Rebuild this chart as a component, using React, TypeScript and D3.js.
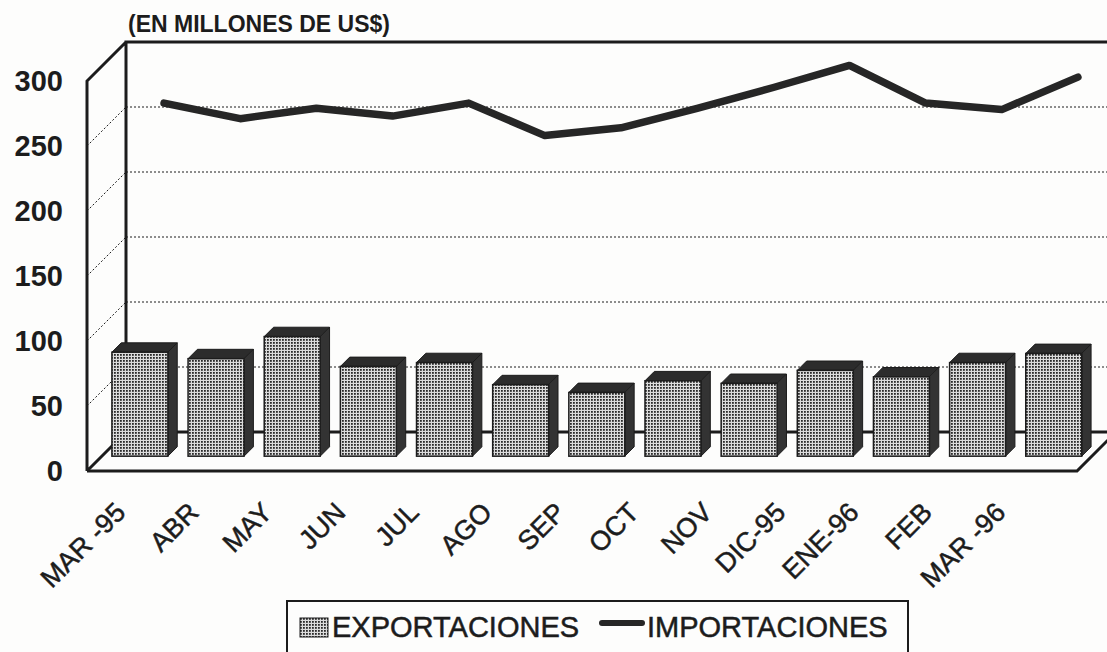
import React, { useEffect, useRef } from 'react'
import * as d3 from 'd3'

const months = ['MAR -95', 'ABR', 'MAY', 'JUN', 'JUL', 'AGO', 'SEP', 'OCT', 'NOV', 'DIC-95', 'ENE-96', 'FEB', 'MAR -96']
const exportaciones = [80, 75, 92, 69, 72, 55, 49, 58, 56, 66, 61, 72, 79]
const importaciones = [253, 241, 249, 243, 253, 228, 234, 249, 265, 282, 253, 248, 273]
const yTicks = [0, 50, 100, 150, 200, 250, 300]

const W = 1107
const H = 652
const font = '"Liberation Sans", Arial, Helvetica, sans-serif'
const ink = '#1c1c1c'

const App = () => {
  const ref = useRef<SVGSVGElement>(null)

  useEffect(() => {
    const svg = d3.select(ref.current)
    svg.selectAll('*').remove()

    const left = 87
    const right = 1077
    const depth = 39 // offset of the back wall (right / up)
    const farX = W + 60

    const x = d3.scaleBand().domain(months).range([left, right]).paddingInner(0.265).paddingOuter(0.1325)
    const y = d3.scaleLinear().domain([0, 300]).range([471, 81])
    const xl = d3.scalePoint().domain(months).range([127, 1007])

    // dotted fill of the bars
    const defs = svg.append('defs')
    const pat = defs.append('pattern').attr('id', 'dots').attr('width', 3).attr('height', 3)
      .attr('patternUnits', 'userSpaceOnUse')
    pat.append('rect').attr('width', 3).attr('height', 3).attr('fill', '#dcdcdc')
    pat.append('rect').attr('width', 1.8).attr('height', 1.8).attr('fill', '#2a2a2a')

    svg.append('rect').attr('width', W).attr('height', H).attr('fill', '#fdfdfc')

    const g = svg.append('g')

    // grid lines on side wall and back wall
    const grid = yTicks.filter(v => v > 0 && v < 300)
    g.selectAll('.gside').data(grid).enter().append('line')
      .attr('x1', left).attr('y1', d => y(d))
      .attr('x2', left + depth).attr('y2', d => y(d) - depth)
      .attr('stroke', ink).attr('stroke-width', 1).attr('stroke-dasharray', '2,2')
    g.selectAll('.gback').data(grid).enter().append('line')
      .attr('x1', left + depth).attr('y1', d => y(d) - depth)
      .attr('x2', farX).attr('y2', d => y(d) - depth)
      .attr('stroke', ink).attr('stroke-width', 1).attr('stroke-dasharray', '2,2')

    // walls frame
    const frame = d3.path()
    frame.moveTo(left, y(0)); frame.lineTo(left, y(300)); frame.lineTo(left + depth, y(300) - depth)
    frame.moveTo(left + depth, y(0) - depth); frame.lineTo(left + depth, y(300) - depth); frame.lineTo(farX, y(300) - depth)
    frame.moveTo(left + depth, y(0) - depth); frame.lineTo(farX, y(0) - depth)
    frame.moveTo(left, y(0)); frame.lineTo(left + depth, y(0) - depth)
    g.append('path').attr('d', frame.toString()).attr('fill', 'none')
      .attr('stroke', ink).attr('stroke-width', 3).attr('stroke-linejoin', 'miter')

    // importaciones line on back wall
    const line = d3.line<number>()
      .x((d, i) => (x(months[i]) as number) + x.bandwidth() / 2 + depth)
      .y(d => y(d) - depth)
    g.append('path').datum(importaciones).attr('d', line)
      .attr('fill', 'none').attr('stroke', '#262626').attr('stroke-width', 7.5)
      .attr('stroke-linejoin', 'round').attr('stroke-linecap', 'round')

    // exportaciones 3D bars
    const d0 = 0.38
    const d1 = 0.62
    const dd = (d1 - d0) * depth
    const bw = x.bandwidth()
    const bars = g.selectAll('.bar').data(exportaciones).enter().append('g')
    const fx = (i: number) => (x(months[i]) as number) + d0 * depth
    const top = (v: number) => y(v) - d0 * depth
    const base = y(0) - d0 * depth
    bars.append('path')
      .attr('d', (v, i) => `M${fx(i)},${top(v)}L${fx(i) + bw},${top(v)}L${fx(i) + bw + dd},${top(v) - dd}L${fx(i) + dd},${top(v) - dd}Z`)
      .attr('fill', '#2c2c2c').attr('stroke', ink).attr('stroke-width', 1)
    bars.append('path')
      .attr('d', (v, i) => `M${fx(i) + bw},${top(v)}L${fx(i) + bw + dd},${top(v) - dd}L${fx(i) + bw + dd},${base - dd}L${fx(i) + bw},${base}Z`)
      .attr('fill', '#333').attr('stroke', ink).attr('stroke-width', 1)
    bars.append('rect')
      .attr('x', (v, i) => fx(i)).attr('y', v => top(v))
      .attr('width', bw).attr('height', v => base - top(v))
      .attr('fill', 'url(#dots)').attr('stroke', ink).attr('stroke-width', 1.5)

    // floor front edge
    g.append('path')
      .attr('d', `M${left},${y(0)}L${right},${y(0)}L${right + depth},${y(0) - depth}`)
      .attr('fill', 'none').attr('stroke', ink).attr('stroke-width', 3)

    // y labels
    g.selectAll('.ylab').data(yTicks).enter().append('text')
      .attr('x', 63).attr('y', d => y(d)).attr('dy', '0.36em')
      .attr('text-anchor', 'end').attr('font-family', font).attr('font-weight', 'bold')
      .attr('font-size', 29).attr('fill', ink)
      .text(d => d)

    // x labels
    g.selectAll('.xlab').data(months).enter().append('text')
      .attr('transform', d => `translate(${xl(d)},514) rotate(-45)`)
      .attr('text-anchor', 'end').attr('font-family', font)
      .attr('font-size', 27).attr('fill', ink)
      .attr('stroke', ink).attr('stroke-width', 0.5)
      .text(d => d)

    // title
    g.append('text').attr('x', 128).attr('y', 32)
      .attr('font-family', font).attr('font-weight', 'bold').attr('font-size', 23).attr('fill', ink)
      .text('(EN MILLONES DE US$)')

    // legend
    const lg = g.append('g')
    lg.append('rect').attr('x', 287).attr('y', 601).attr('width', 621).attr('height', 70)
      .attr('fill', 'none').attr('stroke', ink).attr('stroke-width', 2)
    lg.append('rect').attr('x', 300).attr('y', 618).attr('width', 28).attr('height', 19)
      .attr('fill', 'url(#dots)').attr('stroke', ink).attr('stroke-width', 1)
    lg.append('text').attr('x', 332).attr('y', 637).attr('font-family', font).attr('font-size', 29)
      .attr('fill', ink).attr('stroke', ink).attr('stroke-width', 0.5).text('EXPORTACIONES')
    lg.append('line').attr('x1', 602).attr('x2', 642).attr('y1', 623).attr('y2', 623)
      .attr('stroke', '#262626').attr('stroke-width', 6).attr('stroke-linecap', 'round')
    lg.append('text').attr('x', 647).attr('y', 637).attr('font-family', font).attr('font-size', 29)
      .attr('fill', ink).attr('stroke', ink).attr('stroke-width', 0.5).text('IMPORTACIONES')
  }, [])

  return (
    <svg ref={ref} width={W} height={H} style={{ position: 'absolute', left: 0, top: 0 }} />
  )
}

export default App
